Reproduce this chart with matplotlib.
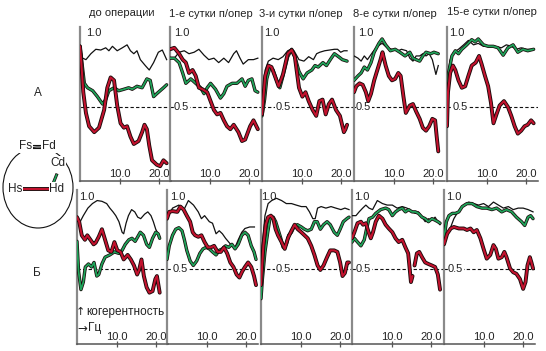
import numpy as np
import matplotlib
matplotlib.use('Agg')
import matplotlib.pyplot as plt
from matplotlib import patches
from matplotlib import patheffects as pe

plt.rcParams['font.family'] = ['Liberation Sans', 'DejaVu Sans']

nan = np.nan

titles = ['до операции', '1-е сутки п/опер', '3-и сутки п/опер', '8-е сутки п/опер', '15-е сутки п/опер']
row_labels = ['А', 'Б']
tick_values = [10, 20]
tick_labels = ['10.0', '20.0']

# --- row A ---
a1_k_x = [0, 0.67, 1.5, 2.75, 4, 5.25, 6.5, 7.3, 8.2, 9.4, 10.7, 11.9, 12.75, 13.6, 14.4, 15.25, 16.5, 17.5, 18.6, 19.8, 20.8, 21.9]
a1_k_y = [0.91, 0.83, 0.82, 0.86, 0.89, 0.885, 0.90, 0.88, 0.91, 0.88, 0.90, 0.92, 0.88, 0.86, 0.88, 0.82, 0.78, 0.75, 0.80, 0.87, 0.885, 0.82]
a1_g_x = [0, 1.1, 1.9, 3.2, 4.4, 5.7, 6.5, 7.3, 8.6, 9.8, 11.1, 12.3, 13.2, 14.4, 15.7, 16.9, 17.75, 18.6, 19.4, 20.25, 21.1, 21.9]
a1_g_y = [0.91, 0.66, 0.63, 0.61, 0.57, 0.52, 0.55, 0.61, 0.63, 0.61, 0.62, 0.63, 0.62, 0.64, 0.63, 0.69, 0.68, 0.57, 0.59, 0.61, 0.63, 0.65]
a1_r_x = [0, 0.33, 0.83, 1.5, 2.3, 3.6, 4.8, 6.1, 6.9, 7.75, 8.6, 9.4, 10.25, 11.1, 11.9, 12.75, 13.6, 14.8, 15.7, 16.3, 16.9, 17.5, 18.2, 19.4, 20.25, 21.1, 21.9]
a1_r_y = [0.91, 0.80, 0.60, 0.46, 0.37, 0.33, 0.36, 0.48, 0.63, 0.70, 0.68, 0.51, 0.39, 0.36, 0.37, 0.30, 0.25, 0.27, 0.33, 0.38, 0.35, 0.24, 0.14, 0.11, 0.10, 0.14, 0.12]

a2_k_x = [0, 1.1, 2.3, 3.6, 4.8, 6.1, 7.3, 8.6, 9.8, 11.1, 12.3, 13.6, 14.8, 16.1, 16.8, 17.7, 18.5, 19.8, 21.1, 22.2]
a2_k_y = [0.83, 0.83, 0.87, 0.88, 0.86, 0.87, 0.89, 0.85, 0.82, 0.83, 0.80, 0.83, 0.80, 0.86, 0.88, 0.83, 0.79, 0.82, 0.82, 0.83]
a2_g_x = [0, 1.1, 2.3, 3.2, 4.0, 5.25, 6.5, 7.75, 8.6, 9.4, 10.25, 11.5, 12.75, 13.6, 14.4, 15.7, 16.9, 18.2, 19.0, 19.8, 20.7, 21.5, 22.2]
a2_g_y = [0.83, 0.83, 0.80, 0.73, 0.66, 0.69, 0.66, 0.63, 0.59, 0.63, 0.66, 0.62, 0.56, 0.59, 0.64, 0.66, 0.66, 0.69, 0.64, 0.68, 0.69, 0.61, 0.60]
a2_r_x = [0, 1.1, 2.3, 3.2, 4.0, 4.8, 5.7, 6.5, 7.3, 8.2, 9.4, 10.25, 11.1, 11.9, 12.75, 13.6, 14.4, 15.25, 16.1, 17.3, 18.2, 19.0, 20.25, 21.1, 22.2]
a2_r_y = [0.89, 0.90, 0.86, 0.82, 0.80, 0.73, 0.75, 0.71, 0.63, 0.62, 0.60, 0.54, 0.48, 0.45, 0.46, 0.41, 0.37, 0.35, 0.38, 0.33, 0.27, 0.28, 0.37, 0.41, 0.35]

a3_k_x = [0, 0.8, 1.6, 2.8, 4.1, 5.3, 6.5, 7.3, 8.1, 9.35, 10.6, 11.8, 13.0, 13.8, 14.6, 15.85, 17.1, 18.3, 19.1, 19.9, 20.7, 21.5]
a3_k_y = [0.45, 0.75, 0.81, 0.83, 0.82, 0.84, 0.88, 0.89, 0.88, 0.82, 0.81, 0.84, 0.82, 0.86, 0.87, 0.88, 0.885, 0.89, 0.89, 0.87, 0.88, 0.88]
a3_g_x = [0, 0.65, 1.2, 2.0, 2.8, 3.7, 4.5, 5.3, 6.5, 7.5, 8.3, 9.35, 10.4, 11.4, 12.6, 13.4, 14.2, 15.4, 16.3, 17.5, 18.3, 19.35, 20.3, 21.5]
a3_g_y = [0.44, 0.55, 0.69, 0.77, 0.75, 0.68, 0.63, 0.71, 0.84, 0.89, 0.84, 0.74, 0.69, 0.73, 0.75, 0.78, 0.77, 0.80, 0.78, 0.83, 0.86, 0.84, 0.82, 0.81]
a3_r_x = [0, 0.8, 1.6, 2.4, 3.25, 4.2, 5.3, 6.5, 7.5, 8.3, 9.35, 10.2, 11.0, 11.8, 12.8, 13.7, 14.5, 15.3, 16.1, 16.9, 17.7, 18.7, 19.7, 20.7, 21.1, 21.5]
a3_r_y = [0.45, 0.71, 0.78, 0.77, 0.71, 0.64, 0.72, 0.86, 0.885, 0.84, 0.63, 0.57, 0.60, 0.54, 0.48, 0.44, 0.54, 0.55, 0.45, 0.52, 0.55, 0.48, 0.44, 0.33, 0.35, 0.38]

a4_k_x = [0, 1.0, 1.8, 2.6, 3.4, 4.7, 5.9, 7.1, 8.4, 9.6, 10.4, 11.2, 12.0, 13.3, 14.1, 14.9, 15.7, 16.6, 17.4, 18.2, 19.0, 19.8, 20.7, 21.3]
a4_k_y = [0.845, 0.83, 0.81, 0.845, 0.82, 0.87, 0.91, 0.93, 0.90, 0.89, 0.89, 0.88, 0.89, 0.88, 0.83, 0.81, 0.845, 0.845, 0.86, 0.845, 0.86, 0.82, 0.72, 0.78]
a4_g_x = [0, 1.0, 1.8, 2.6, 3.4, 4.3, 5.1, 6.3, 7.1, 8.0, 9.2, 10.4, 11.6, 12.9, 14.1, 14.9, 15.7, 16.6, 17.4, 18.2, 19.4, 20.2, 21.3]
a4_g_y = [0.68, 0.71, 0.73, 0.77, 0.75, 0.80, 0.87, 0.93, 0.96, 0.92, 0.88, 0.89, 0.87, 0.845, 0.87, 0.83, 0.82, 0.81, 0.845, 0.87, 0.86, 0.87, 0.86]
a4_r_x = [0, 0.57, 1.4, 2.2, 3.0, 3.6, 4.3, 5.1, 5.9, 6.7, 7.2, 8.0, 8.8, 9.6, 10.4, 11.2, 11.8, 12.5, 13.1, 14.1, 14.9, 15.7, 16.6, 17.4, 18.2, 19.0, 19.8, 20.5, 20.9, 21.3]
a4_r_y = [0.60, 0.64, 0.66, 0.65, 0.60, 0.54, 0.59, 0.68, 0.75, 0.82, 0.87, 0.78, 0.71, 0.68, 0.69, 0.73, 0.71, 0.57, 0.46, 0.51, 0.52, 0.47, 0.42, 0.36, 0.34, 0.37, 0.42, 0.41, 0.30, 0.20]

a5_k_x = [0, 0.4, 0.8, 1.7, 2.9, 4.2, 5.4, 6.7, 7.9, 9.2, 10.4, 12.1, 13.75, 15.0, 16.25, 17.5, 18.75, 20.0, 21.1, 21.9]
a5_k_y = [0.64, 0.75, 0.82, 0.87, 0.89, 0.92, 0.95, 0.92, 0.93, 0.91, 0.91, 0.91, 0.90, 0.92, 0.91, 0.89, 0.90, 0.89, 0.89, 0.89]
a5_g_x = [0, 0.4, 1.25, 2.1, 2.9, 3.75, 5.0, 6.25, 7.1, 7.9, 9.2, 10.4, 11.7, 12.9, 14.2, 15.4, 16.7, 17.9, 19.2, 20.4, 21.9]
a5_g_y = [0.60, 0.73, 0.845, 0.88, 0.86, 0.89, 0.92, 0.955, 0.94, 0.96, 0.92, 0.91, 0.91, 0.90, 0.85, 0.90, 0.92, 0.87, 0.89, 0.88, 0.89]
a5_r_x = [0, 0.25, 0.8, 1.5, 2.1, 2.9, 3.75, 4.6, 5.4, 6.25, 7.25, 8.1, 8.75, 9.6, 10.4, 11.1, 11.75, 12.5, 13.3, 14.4, 15.4, 16.25, 17.1, 17.9, 18.75, 19.6, 20.4, 21.25, 21.9]
a5_r_y = [0.37, 0.60, 0.73, 0.78, 0.75, 0.68, 0.63, 0.64, 0.71, 0.78, 0.80, 0.845, 0.79, 0.71, 0.64, 0.53, 0.39, 0.45, 0.51, 0.54, 0.50, 0.44, 0.37, 0.32, 0.34, 0.37, 0.38, 0.41, 0.39]

# --- row Б ---
b1_k_x = [0, 0.8, 1.6, 2.75, 3.9, 5.1, 6.3, 7.5, 8.3, 9.1, 9.8, 10.6, 11.4, 11.8, 12.4, 13.0, 13.8, 14.6, 15.35, 16.1, 17.1, 17.9, 18.7, 19.3, 19.9, 20.5, 20.9]
b1_k_y = [0.84, 0.81, 0.85, 0.90, 0.93, 0.95, 0.945, 0.93, 0.90, 0.875, 0.85, 0.81, 0.74, 0.73, 0.80, 0.85, 0.89, 0.875, 0.84, 0.83, 0.86, 0.875, 0.85, 0.81, 0.76, 0.73, 0.71]
b1_g_x = [0, 0.4, 1.0, 1.6, 2.1, 2.9, 3.7, 4.3, 5.0, 5.5, 6.3, 7.1, 8.3, 9.45, 10.6, 11.4, 12.2, 13.1, 13.9, 14.7, 15.35, 16.0, 16.8, 17.6, 18.3, 19.1, 19.9, 20.5, 20.9]
b1_g_y = [0.68, 0.48, 0.36, 0.41, 0.51, 0.53, 0.51, 0.54, 0.45, 0.46, 0.53, 0.575, 0.59, 0.61, 0.60, 0.62, 0.66, 0.69, 0.70, 0.68, 0.71, 0.74, 0.72, 0.66, 0.64, 0.70, 0.74, 0.73, 0.70]
b1_r_x = [0, 0.55, 1.2, 2.0, 2.6, 3.4, 4.2, 4.7, 5.5, 6.3, 7.1, 7.9, 8.7, 9.45, 10.2, 11.0, 11.8, 12.8, 13.6, 14.4, 15.2, 15.7, 16.3, 16.9, 17.6, 18.3, 19.1, 19.8, 20.2, 20.9]
b1_r_y = [0.84, 0.81, 0.72, 0.69, 0.72, 0.69, 0.66, 0.67, 0.71, 0.76, 0.69, 0.62, 0.61, 0.675, 0.62, 0.61, 0.56, 0.59, 0.56, 0.52, 0.46, 0.49, 0.56, 0.45, 0.375, 0.34, 0.35, 0.43, 0.45, 0.34]

b2_k_x = [0, 1.4, 3.0, 4.2, 5.4, 6.7, 7.9, 8.7, 9.5, 10.7, 11.5, 12.4, 13.2, 14.0, 14.8, 15.6, 16.4, 17.2, 18.0, 18.9, 19.7, 20.9, 22.1]
b2_k_y = [0.83, 0.90, 0.92, 0.885, 0.95, 0.92, 0.875, 0.83, 0.85, 0.81, 0.80, 0.73, 0.75, 0.73, 0.70, 0.675, 0.65, 0.64, 0.69, 0.74, 0.765, 0.775, 0.775]
b2_g_x = [0, 0.57, 1.4, 2.2, 3.0, 3.8, 4.4, 5.0, 5.85, 6.65, 7.5, 8.3, 9.1, 9.9, 10.7, 11.5, 12.4, 13.2, 14.0, 14.8, 15.6, 16.4, 17.2, 18.0, 18.9, 19.7, 20.5, 21.3, 22.0, 22.5]
b2_g_y = [0.56, 0.65, 0.72, 0.76, 0.77, 0.75, 0.69, 0.62, 0.55, 0.52, 0.55, 0.60, 0.63, 0.64, 0.63, 0.61, 0.59, 0.62, 0.63, 0.65, 0.64, 0.66, 0.63, 0.66, 0.72, 0.74, 0.72, 0.65, 0.61, 0.56]
b2_r_x = [0, 0.57, 1.4, 2.6, 3.4, 4.2, 5.0, 5.85, 6.5, 7.1, 7.9, 8.7, 9.5, 10.3, 11.1, 11.9, 12.8, 13.6, 14.4, 15.2, 16.0, 16.8, 17.6, 18.3, 19.0, 19.7, 20.5, 21.3, 22.0, 22.5]
b2_r_y = [0.83, 0.875, 0.88, 0.875, 0.91, 0.89, 0.85, 0.81, 0.74, 0.72, 0.71, 0.72, 0.675, 0.64, 0.64, 0.65, 0.61, 0.61, 0.64, 0.60, 0.54, 0.51, 0.46, 0.44, 0.48, 0.51, 0.54, 0.51, 0.45, 0.39]

b3_k_x = [0.15, 1.0, 1.8, 2.7, 3.9, 5.2, 6.4, 7.7, 8.9, 10.2, 11.4, 12.25, 13.1, 13.7, 14.3, 15.2, 16.4, 17.7, 18.9, 20.2, 21.2, 22.25]
b3_k_y = [0.61, 0.85, 0.93, 0.95, 0.965, 0.95, 0.93, 0.93, 0.92, 0.91, 0.91, 0.875, 0.83, 0.83, 0.90, 0.91, 0.90, 0.91, 0.90, 0.89, 0.90, 0.89]
b3_g_x = [0, 0.35, 1.0, 1.7, 2.25, 3.1, 3.7, 4.3, 5.0, 5.6, 6.4, 7.0, 7.7, 8.3, 9.2, 10.2, 11.0, 11.8, 12.7, 13.5, 14.2, 15.0, 15.8, 16.7, 17.5, 18.5, 19.3, 20.0, 20.8, 21.7, 22.25]
b3_g_y = [0.30, 0.43, 0.61, 0.74, 0.83, 0.84, 0.81, 0.76, 0.70, 0.64, 0.66, 0.72, 0.74, 0.775, 0.79, 0.775, 0.76, 0.75, 0.76, 0.81, 0.81, 0.76, 0.79, 0.81, 0.79, 0.74, 0.72, 0.76, 0.81, 0.83, 0.84]
b3_r_x = [0, 0.6, 1.2, 1.8, 2.5, 3.1, 3.7, 4.3, 5.2, 6.0, 6.8, 7.7, 8.5, 9.3, 10.2, 11.0, 11.8, 12.7, 13.5, 14.3, 15.0, 15.8, 16.7, 17.5, 18.5, 19.3, 20.0, 20.6, 21.2, 21.8, 22.25]
b3_r_y = [0.39, 0.65, 0.79, 0.84, 0.85, 0.83, 0.76, 0.72, 0.675, 0.63, 0.70, 0.75, 0.79, 0.76, 0.74, 0.72, 0.70, 0.65, 0.59, 0.52, 0.49, 0.52, 0.575, 0.62, 0.62, 0.61, 0.54, 0.45, 0.47, 0.54, 0.54]

b4_k_x = [0, 1.0, 1.8, 2.7, 3.5, 4.3, 5.2, 6.4, 7.7, 8.9, 10.2, 11.4, 12.7, 13.9, 15.2, 16.0, 16.8, 17.7, 18.5, 19.3, 20.2, 21.0, 21.7, 22.25]
b4_k_y = [0.85, 0.85, 0.875, 0.90, 0.92, 0.90, 0.89, 0.95, 0.93, 0.92, 0.92, 0.90, 0.91, 0.90, 0.875, 0.865, 0.875, 0.84, 0.81, 0.83, 0.82, 0.84, 0.81, 0.79]
b4_g_x = [0, 0.6, 1.4, 2.25, 3.1, 3.7, 4.3, 5.2, 6.0, 7.25, 8.5, 9.3, 10.2, 11.0, 11.8, 12.7, 13.5, 14.3, 15.2, 16.0, 16.8, 17.7, 18.5, 19.3, 20.2, 21.0, 21.7, 22.25]
b4_g_y = [0.675, 0.70, 0.675, 0.65, 0.69, 0.765, 0.83, 0.84, 0.865, 0.89, 0.90, 0.89, 0.85, 0.875, 0.89, 0.90, 0.875, 0.89, 0.875, 0.875, 0.865, 0.84, 0.83, 0.81, 0.83, 0.82, 0.81, 0.80]
b4_r_x = [0, 0.6, 1.4, 2.25, 2.8, 3.5, 4.2, 4.75, 5.3, 6.0, 6.8, 7.7, 8.5, 9.3, 10.2, 11.0, 11.8, 12.7, 13.5, 14.2, 14.5, 14.9, 15.3,
          15.55,
          15.8, 16.4, 17.0, 17.7, 18.5, 19.3, 20.2, 21.0, 21.7, 22.25]
b4_r_y = [0.70, 0.74, 0.80, 0.81, 0.79, 0.80, 0.74, 0.70, 0.74, 0.81, 0.85, 0.83, 0.79, 0.765, 0.74, 0.70, 0.675, 0.69, 0.64, 0.60, 0.52, 0.41, 0.45,
          nan,
          0.52, 0.60, 0.61, 0.575, 0.54, 0.53, 0.52, 0.51, 0.46, 0.36]

b5_k_x = [0, 0.8, 1.7, 2.5, 3.3, 4.2, 5.0, 6.25, 7.5, 8.75, 10.0, 11.25, 12.5, 13.75, 15.0, 16.25, 17.5, 18.75, 20.0, 21.25, 22.5]
b5_k_y = [0.66, 0.72, 0.775, 0.83, 0.865, 0.90, 0.92, 0.94, 0.93, 0.92, 0.93, 0.91, 0.94, 0.92, 0.90, 0.91, 0.89, 0.90, 0.90, 0.89, 0.875]
b5_g_x = [0, 0.6, 1.25, 2.1, 2.9, 3.75, 4.6, 5.8, 7.1, 8.3, 9.6, 10.8, 12.1, 13.3, 14.6, 15.8, 17.1, 18.3, 19.6, 20.4, 21.25, 21.9, 22.5]
b5_g_y = [0.70, 0.81, 0.85, 0.865, 0.865, 0.875, 0.91, 0.93, 0.93, 0.91, 0.90, 0.90, 0.89, 0.90, 0.875, 0.89, 0.875, 0.84, 0.81, 0.785, 0.84, 0.85, 0.83]
b5_r_x = [0, 0.8, 1.7, 2.5, 3.75, 5.0, 5.8, 6.7, 7.5, 8.3, 9.2, 10.0, 10.8, 11.7, 12.5, 13.1, 13.75, 14.6, 15.25, 15.8, 16.7, 17.5, 18.3, 19.2, 20.0, 20.6, 21.1, 21.7, 22.1, 22.5]
b5_r_y = [0.66, 0.73, 0.765, 0.775, 0.765, 0.765, 0.755, 0.765, 0.74, 0.755, 0.70, 0.63, 0.565, 0.59, 0.655, 0.63, 0.565, 0.575, 0.61, 0.575, 0.50, 0.475, 0.465, 0.43, 0.365, 0.41, 0.52, 0.575, 0.54, 0.50]

rows = [
    [(a1_k_x, a1_k_y, a1_g_x, a1_g_y, a1_r_x, a1_r_y),
     (a2_k_x, a2_k_y, a2_g_x, a2_g_y, a2_r_x, a2_r_y),
     (a3_k_x, a3_k_y, a3_g_x, a3_g_y, a3_r_x, a3_r_y),
     (a4_k_x, a4_k_y, a4_g_x, a4_g_y, a4_r_x, a4_r_y),
     (a5_k_x, a5_k_y, a5_g_x, a5_g_y, a5_r_x, a5_r_y)],
    [(b1_k_x, b1_k_y, b1_g_x, b1_g_y, b1_r_x, b1_r_y),
     (b2_k_x, b2_k_y, b2_g_x, b2_g_y, b2_r_x, b2_r_y),
     (b3_k_x, b3_k_y, b3_g_x, b3_g_y, b3_r_x, b3_r_y),
     (b4_k_x, b4_k_y, b4_g_x, b4_g_y, b4_r_x, b4_r_y),
     (b5_k_x, b5_k_y, b5_g_x, b5_g_y, b5_r_x, b5_r_y)],
]

W, H = 546, 351
fig = plt.figure(figsize=(W / 100, H / 100), dpi=100)

# overlay in pixel coordinates for labels and the small scheme
ov = fig.add_axes([0, 0, 1, 1])
ov.set_xlim(0, W)
ov.set_ylim(H, 0)
ov.axis('off')

# layout of panels (pixels): left spine x, baseline y, px per unit y, top ylim
row_left = [[80, 170, 262, 354, 447], [77, 167, 261, 352, 444]]
row_base = [181, 344]
row_scale = [148, 151]
row_ytop = [1.04, 1.02]
one_x = [[1.5, 1.0, 0.5, 1.0, 0.5], [0.5, 0.8, 0.1, 0.5, 0.5]]
one_y = [1.0, 0.975]
half_x = [[None, 1.0, 3.5, 0.5, 1.5], [None, 1.5, 3.7, 1.0, 1.0]]
panel_w = 91
xmax = 23.0

GREEN = '#1fa35a'
RED = '#c3122e'
EDGE = '#1a0a0a'
txt = '#222222'


def curve(ax, x, y, color, lw, edge_lw, z):
    ax.plot(x, y, color=color, lw=lw, zorder=z, solid_capstyle='round',
            path_effects=[pe.Stroke(linewidth=edge_lw, foreground=EDGE), pe.Normal()])


for r, panels in enumerate(rows):
    for c, (kx, ky, gx, gy, rx, ry) in enumerate(panels):
        hpx = row_ytop[r] * row_scale[r]
        ax = fig.add_axes([row_left[r][c] / W, 1 - row_base[r] / H, panel_w / W, hpx / H])
        ax.patch.set_alpha(0)
        ax.set_xlim(0, xmax)
        ax.set_ylim(0, row_ytop[r])
        for s in ['top', 'right']:
            ax.spines[s].set_visible(False)
        ax.spines['left'].set_color('#8a8a8a')
        ax.spines['left'].set_linewidth(1.6)
        ax.spines['bottom'].set_color('#555555')
        ax.spines['bottom'].set_linewidth(1.1)
        ax.set_yticks([])
        ax.set_xticks(tick_values)
        ax.tick_params(axis='x', direction='inout', length=5, width=0.9, color='#555555', labelbottom=False)
        for tv, tl in zip(tick_values, tick_labels):
            ax.text(tv, 0.012, tl, ha='center', va='bottom', fontsize=8, color=txt)

        ax.plot([0, xmax], [0.5, 0.5], color='#111111', lw=0.8, dashes=(3, 2), zorder=1)
        if half_x[r][c] is not None:
            ax.text(half_x[r][c], 0.5, '0.5', ha='left', va='center', fontsize=8, color=txt, zorder=2,
                    bbox=dict(facecolor='white', edgecolor='none', pad=0.3))
        ax.text(one_x[r][c], one_y[r], '1.0', ha='left', va='center', fontsize=8, color=txt, zorder=1)

        ax.plot(kx, ky, color='#111111', lw=0.9, zorder=3)
        curve(ax, gx, gy, GREEN, 1.3, 2.4, 4)
        curve(ax, rx, ry, RED, 1.5, 2.8, 5)

# column titles
title_x = [122, 211, 301, 395, 492]
title_y = [13, 14, 14, 14, 12]
for t, tx, ty in zip(titles, title_x, title_y):
    ov.text(tx, ty, t, ha='center', va='center', fontsize=8, color=txt)

ov.text(38, 93, row_labels[0], ha='center', va='center', fontsize=8.5, color=txt)
ov.text(37, 273, row_labels[1], ha='center', va='center', fontsize=8.5, color=txt)

# axis meaning note, arrows in DejaVu for full-size glyphs
ov.text(80.5, 312, '↑', ha='center', va='center', fontsize=8, color=txt, family='DejaVu Sans')
ov.text(86, 312, 'когерентность', ha='left', va='center', fontsize=8.5, color=txt)
ov.text(77, 328, '→', ha='left', va='center', fontsize=8.5, color=txt, family='DejaVu Sans')
ov.text(88, 328, 'Гц', ha='left', va='center', fontsize=8.5, color=txt)

# scheme of electrode pairs
ov.add_patch(patches.Ellipse((38, 187.5), 70, 81, fill=False, ec='#111111', lw=0.8))
wb = dict(facecolor='white', edgecolor='none', pad=0.5)
ov.text(26, 146, 'Fs', ha='center', va='center', fontsize=8.5, color=txt, bbox=wb)
ov.text(49, 146, 'Fd', ha='center', va='center', fontsize=8.5, color=txt, bbox=wb)
ov.plot([32, 43], [144.8, 144.8], color='#111111', lw=0.8)
ov.plot([32, 43], [147.6, 147.6], color='#111111', lw=0.8)
ov.text(58, 163, 'Cd', ha='center', va='center', fontsize=8.5, color=txt, bbox=wb)
ov.text(15, 189, 'Hs', ha='center', va='center', fontsize=8.5, color=txt, bbox=wb)
ov.text(57, 189, 'Hd', ha='center', va='center', fontsize=8.5, color=txt, bbox=wb)
ov.plot([22, 50], [189, 189], color=RED, lw=1.5,
        path_effects=[pe.Stroke(linewidth=2.8, foreground=EDGE), pe.Normal()])
ov.plot([53.5, 56.5], [182.5, 175], color=GREEN, lw=1.2,
        path_effects=[pe.Stroke(linewidth=2.2, foreground=EDGE), pe.Normal()])

fig.savefig('out.png', dpi=100)
